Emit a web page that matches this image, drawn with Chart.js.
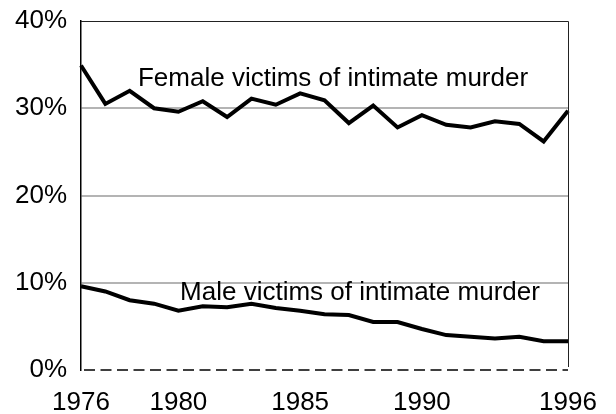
<!DOCTYPE html>
<html>
<head>
<meta charset="utf-8">
<script src="https://cdn.jsdelivr.net/npm/chart.js@4"></script>
<style>
  html, body { margin: 0; padding: 0; background: #fff; }
  #wrap { width: 616px; height: 414px; }
</style>
</head>
<body>
<div id="wrap"><canvas id="lineChart" width="616" height="414"></canvas></div>
<script>
var years = ["1976", "1977", "1978", "1979", "1980", "1981", "1982", "1983", "1984", "1985",
  "1986", "1987", "1988", "1989", "1990", "1991", "1992", "1993", "1994", "1995", "1996"];
var shownYears = ["1976", "1980", "1985", "1990", "1996"];
var female = [34.9, 30.5, 32.0, 30.0, 29.6, 30.8, 29.0, 31.1, 30.4, 31.7,
  30.9, 28.3, 30.3, 27.8, 29.2, 28.1, 27.8, 28.5, 28.2, 26.2, 29.7];
var male = [9.6, 9.0, 8.0, 7.6, 6.8, 7.3, 7.2, 7.6, 7.1, 6.8,
  6.4, 6.3, 5.5, 5.5, 4.7, 4.0, 3.8, 3.6, 3.8, 3.3, 3.3];
var yTicks = [0, 10, 20, 30, 40];
var seriesNames = ["Female victims of intimate murder", "Male victims of intimate murder"];

var FONT = '"Liberation Sans", Arial, sans-serif';

// borders, dashed zero line and the in-plot labels
var framePlugin = {
  id: "frame",
  afterDraw: function (chart) {
    var ctx = chart.ctx;
    var a = chart.chartArea;
    var xs = chart.scales.x, ys = chart.scales.y;
    var y0 = ys.getPixelForValue(0);
    ctx.save();
    ctx.strokeStyle = "#222";
    ctx.lineWidth = 1;
    ctx.beginPath();
    ctx.moveTo(a.left, a.top + 0.5);
    ctx.lineTo(a.right + 0.5, a.top + 0.5);
    ctx.lineTo(a.right + 0.5, y0 - 3);
    ctx.stroke();

    ctx.strokeStyle = "#000";
    ctx.lineWidth = 1.5;
    ctx.setLineDash([11, 5.5]);
    ctx.beginPath();
    ctx.moveTo(a.left + 3, y0);
    ctx.lineTo(a.right, y0);
    ctx.stroke();
    ctx.setLineDash([]);

    ctx.fillStyle = "#000";
    ctx.font = "26px " + FONT;
    ctx.textAlign = "left";
    ctx.textBaseline = "middle";
    ctx.fillText(seriesNames[0], xs.getPixelForValue(2.34), ys.getPixelForValue(33.4));
    ctx.fillText(seriesNames[1], xs.getPixelForValue(4.07), ys.getPixelForValue(8.8));
    ctx.restore();
  }
};

var ctxL = document.getElementById("lineChart").getContext("2d");
var myLineChart = new Chart(ctxL, {
  type: "line",
  data: {
    labels: years,
    datasets: [
      { label: seriesNames[0], data: female, borderColor: "#000", borderWidth: 4, pointRadius: 0, tension: 0, fill: false },
      { label: seriesNames[1], data: male, borderColor: "#000", borderWidth: 4, pointRadius: 0, tension: 0, fill: false }
    ]
  },
  options: {
    responsive: false,
    animation: false,
    layout: { padding: { top: 21, right: 48, left: 0, bottom: 0 } },
    plugins: { legend: { display: false }, tooltip: { enabled: false } },
    scales: {
      x: {
        offset: false,
        grid: { display: false, drawTicks: false },
        border: { display: false },
        afterFit: function (scale) {
          scale.height = 44;
          scale.paddingLeft = 0;
          scale.paddingRight = 0;
        },
        ticks: {
          autoSkip: false,
          maxRotation: 0,
          padding: 17,
          color: "#000",
          font: { family: FONT, size: 26 },
          callback: function (value) {
            var lab = years[value];
            return shownYears.indexOf(lab) >= 0 ? lab : "";
          }
        }
      },
      y: {
        min: 0,
        max: 40,
        afterBuildTicks: function (scale) {
          scale.ticks = yTicks.map(function (v) { return { value: v }; });
        },
        afterFit: function (scale) {
          scale.width = 81;
          scale.paddingTop = 0;
          scale.paddingBottom = 0;
        },
        grid: {
          drawTicks: false,
          lineWidth: 2,
          color: function (c) {
            var v = c.tick ? c.tick.value : null;
            return (v > 0 && v < 40) ? "#b4b4b4" : "rgba(0,0,0,0)";
          }
        },
        border: { display: true, color: "#000", width: 1.5 },
        ticks: {
          padding: 14,
          color: "#000",
          font: { family: FONT, size: 26 },
          callback: function (v) { return v + "%"; }
        }
      }
    }
  },
  plugins: [framePlugin]
});
</script>
</body>
</html>
